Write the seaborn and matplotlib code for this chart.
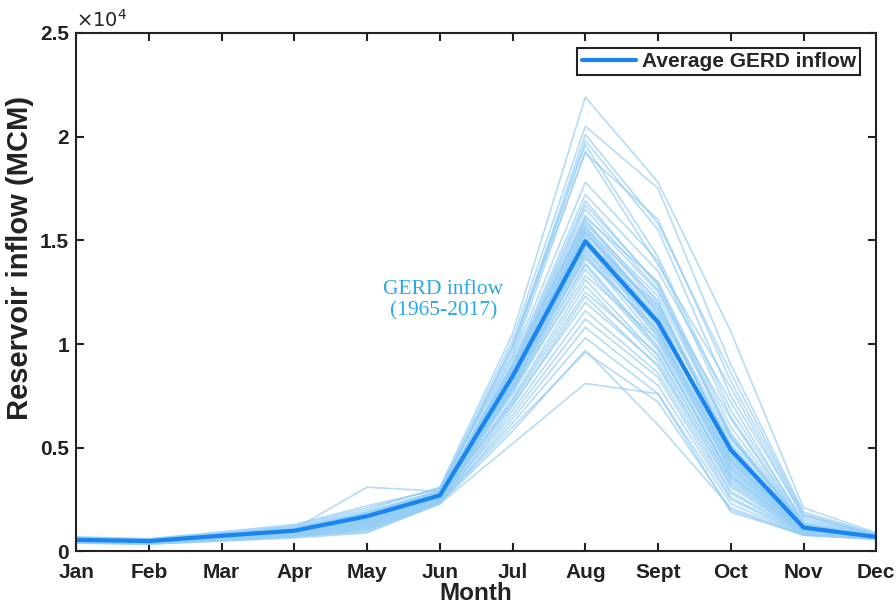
import numpy as np
import pandas as pd
import matplotlib
matplotlib.use("Agg")
import matplotlib.pyplot as plt
import seaborn as sns
from matplotlib.ticker import FuncFormatter

months = ['Jan', 'Feb', 'Mar', 'Apr', 'May', 'Jun', 'Jul', 'Aug', 'Sept', 'Oct', 'Nov', 'Dec']

# Average GERD inflow (MCM)
average_inflow = [560, 500, 760, 1000, 1700, 2700, 8450, 14950, 11050, 4900, 1150, 700]

# Yearly inflows 1965-2017 (MCM), estimated from the chart
yearly_inflow = [
    [700, 620, 900, 1200, 2000, 3100, 10500, 21900, 17800, 10600, 2100, 900],
    [680, 600, 950, 1300, 2200, 3000, 10200, 20500, 17500, 9000, 1900, 850],
    [650, 560, 880, 1150, 1900, 2950, 9800, 20100, 15800, 8600, 1800, 820],
    [620, 540, 820, 1100, 1800, 2900, 9600, 19800, 15500, 7500, 1700, 800],
    [600, 520, 800, 1050, 1750, 2800, 10000, 19600, 14200, 6800, 1500, 780],
    [640, 560, 850, 1250, 2100, 3050, 9400, 19300, 13800, 7900, 1600, 760],
    [610, 530, 780, 1000, 1650, 2850, 9900, 19200, 16000, 8200, 1750, 790],
    [580, 510, 760, 980, 1700, 2750, 9300, 17800, 14000, 6500, 1400, 750],
    [560, 500, 740, 1020, 1850, 2800, 9100, 17200, 13500, 7200, 1350, 740],
    [600, 520, 720, 950, 1600, 2700, 9000, 16900, 12800, 5500, 1300, 720],
    [550, 480, 700, 900, 1500, 2650, 8900, 16200, 12500, 6400, 1250, 700],
    [590, 500, 780, 1080, 3100, 2900, 8700, 16100, 13000, 6000, 1300, 730],
    [540, 470, 690, 940, 1550, 2700, 8800, 16000, 12000, 4800, 1200, 710],
    [520, 460, 680, 920, 1600, 2750, 8600, 15900, 11800, 5100, 1150, 700],
    [570, 500, 760, 1000, 1700, 2800, 9000, 15800, 12300, 5600, 1250, 720],
    [510, 450, 660, 880, 1500, 2600, 8500, 15700, 11500, 4500, 1100, 690],
    [530, 470, 700, 960, 1650, 2700, 8400, 15600, 12100, 4900, 1150, 700],
    [560, 490, 740, 1010, 1800, 2750, 8700, 15500, 11200, 4300, 1100, 680],
    [500, 440, 650, 870, 1450, 2600, 8300, 15400, 11000, 4700, 1100, 690],
    [580, 510, 770, 1040, 1750, 2850, 8600, 15300, 11600, 5200, 1200, 710],
    [490, 430, 640, 860, 1400, 2550, 8200, 15200, 10800, 4100, 1050, 670],
    [550, 480, 720, 990, 1700, 2700, 8500, 15100, 11300, 4600, 1150, 700],
    [520, 460, 690, 930, 1550, 2650, 8100, 15000, 10600, 3900, 1050, 680],
    [600, 520, 800, 1100, 1900, 2900, 8400, 14900, 11900, 5400, 1250, 730],
    [480, 420, 630, 850, 1350, 2500, 8000, 14800, 10500, 4200, 1050, 660],
    [540, 470, 710, 970, 1650, 2700, 8300, 14700, 11000, 4400, 1100, 690],
    [500, 440, 660, 880, 1450, 2550, 7900, 14600, 10300, 3800, 1000, 670],
    [570, 500, 750, 1020, 1750, 2800, 8200, 14500, 10900, 5000, 1150, 700],
    [470, 410, 620, 830, 1300, 2450, 7800, 14300, 10100, 3600, 1000, 650],
    [530, 460, 700, 950, 1600, 2650, 8000, 14100, 10700, 4300, 1100, 680],
    [460, 400, 600, 800, 1250, 2400, 7700, 13900, 9900, 3500, 950, 640],
    [500, 440, 650, 870, 1400, 2550, 7600, 13600, 9700, 3700, 1000, 660],
    [550, 480, 730, 1000, 1700, 2700, 7800, 13300, 10200, 4000, 1050, 680],
    [450, 400, 590, 790, 1200, 2400, 7400, 13100, 9400, 3300, 950, 640],
    [480, 420, 620, 840, 1300, 2450, 7300, 12800, 9200, 3100, 900, 630],
    [520, 460, 680, 920, 1500, 2600, 7200, 12500, 9500, 3400, 950, 650],
    [440, 390, 580, 760, 1150, 2350, 7000, 12300, 8900, 2900, 900, 620],
    [500, 440, 640, 860, 1350, 2500, 7100, 12000, 9000, 3200, 900, 640],
    [430, 380, 560, 740, 1100, 2350, 6800, 11600, 8600, 2800, 850, 610],
    [470, 410, 600, 800, 1200, 2400, 6600, 11200, 8400, 2600, 850, 620],
    [420, 370, 540, 720, 1050, 2300, 6400, 10800, 8000, 2500, 820, 600],
    [450, 400, 580, 780, 1100, 2350, 6200, 10300, 7600, 2300, 800, 600],
    [410, 360, 520, 700, 950, 2300, 5800, 9700, 6100, 2100, 800, 590],
    [440, 390, 560, 740, 1000, 2350, 6000, 9600, 7200, 2000, 780, 600],
    [400, 350, 500, 650, 900, 2300, 5200, 8100, 7600, 1900, 800, 600],
    [590, 520, 780, 1060, 1800, 2800, 8800, 16500, 12600, 5500, 1250, 720],
    [540, 470, 720, 980, 1650, 2700, 8600, 15600, 11400, 4600, 1150, 700],
    [520, 460, 690, 940, 1600, 2650, 8400, 15000, 11100, 4800, 1100, 690],
    [500, 440, 670, 900, 1500, 2600, 8100, 14400, 10400, 4000, 1050, 680],
    [480, 420, 640, 870, 1450, 2550, 7900, 13800, 9800, 3600, 1000, 670],
    [510, 450, 670, 910, 1550, 2600, 8000, 14200, 10600, 4400, 1100, 690],
    [560, 490, 740, 1000, 1700, 2750, 8500, 15400, 11700, 5000, 1200, 710],
    [600, 530, 790, 1070, 1850, 2850, 8900, 16700, 12900, 5700, 1300, 740],
]
years = list(range(1965, 2018))

rows = []
for yr, vals in zip(years, yearly_inflow):
    for i, v in enumerate(vals):
        rows.append({'year': yr, 'm': i, 'inflow': v})
df = pd.DataFrame(rows)
avg_df = pd.DataFrame({'m': range(12), 'inflow': average_inflow})

sns.set_theme(style='white')
plt.rcParams['font.family'] = ['Liberation Sans', 'DejaVu Sans']

fig = plt.figure(figsize=(8.96, 6.08), dpi=100)
ax = fig.add_axes([0.085, 0.093, 0.893, 0.853])

sns.lineplot(data=df, x='m', y='inflow', units='year', estimator=None,
             color='#94cdf5', alpha=0.7, linewidth=1.2, ax=ax, legend=False)
sns.lineplot(data=avg_df, x='m', y='inflow', color='#1a85f0', linewidth=3,
             ax=ax, label='Average GERD inflow')

ax.set_xlim(0, 11)
ax.set_ylim(0, 25000)
ax.set_xticks(range(12))
ax.set_xticklabels(months)
ax.set_yticks([0, 5000, 10000, 15000, 20000, 25000])
ax.yaxis.set_major_formatter(FuncFormatter(lambda v, p: f'{v/1e4:g}'))

for s in ax.spines.values():
    s.set_color('#222222')
    s.set_linewidth(1.5)
    s.set_visible(True)

ax.tick_params(axis='both', which='major', direction='in', length=6, width=1.5,
               top=True, right=True, bottom=True, left=True,
               labelsize=15, colors='#222222')
ax.tick_params(axis='x', pad=8)
ax.tick_params(axis='y', pad=5)
for lbl in ax.get_xticklabels() + ax.get_yticklabels():
    lbl.set_fontweight('bold')

ax.set_xlabel('Month', fontsize=17.5, fontweight='bold', color='#222222', labelpad=0)
ax.set_ylabel('Reservoir inflow (MCM)', fontsize=21, fontweight='bold', color='#222222')
ax.yaxis.set_label_coords(-0.053, 0.566)

ax.text(0.0, 1.004, r'$\times10^4$', transform=ax.transAxes, fontsize=14,
        ha='left', va='bottom', color='#222222')

ax.text(5.05, 12100, 'GERD inflow\n(1965-2017)', family=['Liberation Serif', 'DejaVu Serif'],
        fontsize=15.5, color='#29a9e6', ha='center', va='center', linespacing=1.15)

leg = ax.legend(loc='upper right', frameon=True, fancybox=False, framealpha=1,
                edgecolor='#222222', borderpad=0.2, handlelength=2.6, handletextpad=0.3,
                borderaxespad=0.0,
                bbox_to_anchor=(0.98, 0.971), prop={'weight': 'bold', 'size': 15})
leg.get_frame().set_linewidth(1.5)

fig.savefig('out.png', dpi=100)
